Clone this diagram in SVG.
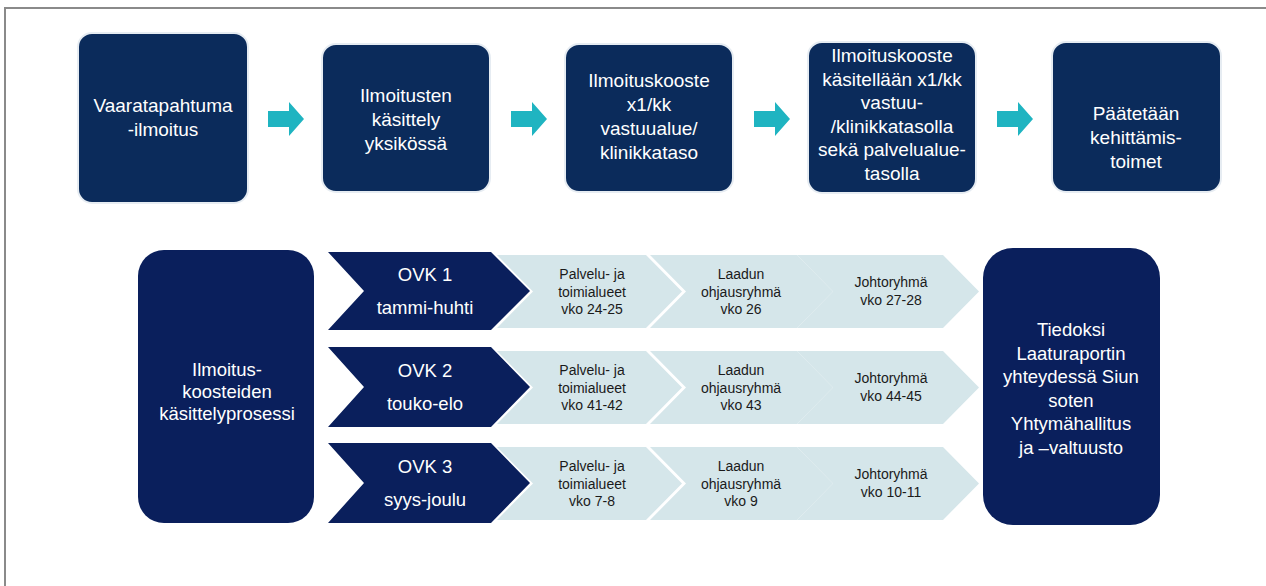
<svg xmlns="http://www.w3.org/2000/svg" width="1266" height="586" viewBox="0 0 1266 586">
<style>
.box{fill:#0b2b5b;stroke:#e6ecf2;stroke-width:2}
.dbox{fill:#0a1f5c}
.arr{fill:#1fb4c1}
.lc{fill:#d5e6ea}
.t{font-family:"Liberation Sans",Arial,sans-serif;font-size:19px;fill:#ffffff;text-anchor:middle}
.b{font-family:"Liberation Sans",Arial,sans-serif;font-size:18.5px;fill:#ffffff;text-anchor:middle}
.s{font-family:"Liberation Sans",Arial,sans-serif;font-size:14px;fill:#1a1a1a;text-anchor:middle}
</style>
<rect x="0" y="0" width="1266" height="586" fill="#ffffff"/>
<path d="M5,590 V8 H1270" fill="none" stroke="#8a8a8a" stroke-width="2"/>

<g id="n1"><rect class="box" x="78" y="33" width="170" height="170" rx="14"/>
<text class="t" x="163" y="112">Vaaratapahtuma</text><text class="t" x="163" y="136">-ilmoitus</text></g>
<g id="n2"><rect class="box" x="322" y="44" width="168" height="148" rx="14"/>
<text class="t" x="406" y="102">Ilmoitusten</text><text class="t" x="406" y="126">käsittely</text><text class="t" x="406" y="150">yksikössä</text></g>
<g id="n3"><rect class="box" x="565" y="44" width="168" height="148" rx="14"/>
<text class="t" x="649" y="87">Ilmoituskooste</text><text class="t" x="649" y="111">x1/kk</text><text class="t" x="649" y="135">vastuualue/</text><text class="t" x="649" y="159">klinikkataso</text></g>
<g id="n4"><rect class="box" x="808" y="42" width="168" height="151" rx="14"/>
<text class="t" x="892" y="62">Ilmoituskooste</text><text class="t" x="892" y="85.5">käsitellään x1/kk</text><text class="t" x="892" y="109">vastuu-</text><text class="t" x="892" y="132.5">/klinikkatasolla</text><text class="t" x="892" y="156">sekä palvelualue-</text><text class="t" x="892" y="179.5">tasolla</text></g>
<g id="n5"><rect class="box" x="1052" y="42" width="169" height="150" rx="14"/>
<text class="t" x="1136" y="120">Päätetään</text><text class="t" x="1136" y="144">kehittämis-</text><text class="t" x="1136" y="168">toimet</text></g>

<g id="connectors">
<polygon class="arr" points="268,111 289,111 289,102 304,119 289,136 289,127 268,127"/>
<polygon class="arr" points="511,111 532,111 532,102 547,119 532,136 532,127 511,127"/>
<polygon class="arr" points="754,111 775,111 775,102 790,119 775,136 775,127 754,127"/>
<polygon class="arr" points="997,111 1018,111 1018,102 1033,119 1018,136 1018,127 997,127"/>
</g>

<g id="left"><rect class="dbox" x="138" y="250" width="176" height="273" rx="26"/>
<text class="b" x="227" y="376">Ilmoitus-</text><text class="b" x="227" y="398">koosteiden</text><text class="b" x="227" y="420">käsittelyprosessi</text></g>

<g id="row1">
<polygon class="lc" points="797,255 943,255 979,291.5 943,328 797,328 833,291.5"/>
<polygon class="lc" points="650,255 797,255 833,291.5 797,328 650,328 686,291.5"/>
<polygon class="lc" points="497,255 646,255 682,291.5 646,328 497,328 533,291.5"/>
<polygon class="dbox" points="328,252 491,252 530,291 491,330 328,330 364,291"/>
<text class="b" x="425" y="281">OVK 1</text><text class="b" x="425" y="314">tammi-huhti</text>
<text class="s" x="592" y="279">Palvelu- ja</text><text class="s" x="592" y="296.5">toimialueet</text><text class="s" x="592" y="314">vko 24-25</text>
<text class="s" x="741" y="279">Laadun</text><text class="s" x="741" y="296.5">ohjausryhmä</text><text class="s" x="741" y="314">vko 26</text>
<text class="s" x="891" y="287">Johtoryhmä</text><text class="s" x="891" y="304.5">vko 27-28</text>
</g>
<g id="row2">
<polygon class="lc" points="797,351 943,351 979,387.5 943,424 797,424 833,387.5"/>
<polygon class="lc" points="650,351 797,351 833,387.5 797,424 650,424 686,387.5"/>
<polygon class="lc" points="497,351 646,351 682,387.5 646,424 497,424 533,387.5"/>
<polygon class="dbox" points="328,347 491,347 530,387 491,427 328,427 364,387"/>
<text class="b" x="425" y="377">OVK 2</text><text class="b" x="425" y="410">touko-elo</text>
<text class="s" x="592" y="375">Palvelu- ja</text><text class="s" x="592" y="392.5">toimialueet</text><text class="s" x="592" y="410">vko 41-42</text>
<text class="s" x="741" y="375">Laadun</text><text class="s" x="741" y="392.5">ohjausryhmä</text><text class="s" x="741" y="410">vko 43</text>
<text class="s" x="891" y="383">Johtoryhmä</text><text class="s" x="891" y="400.5">vko 44-45</text>
</g>
<g id="row3">
<polygon class="lc" points="797,447 943,447 979,483.5 943,520 797,520 833,483.5"/>
<polygon class="lc" points="650,447 797,447 833,483.5 797,520 650,520 686,483.5"/>
<polygon class="lc" points="497,447 646,447 682,483.5 646,520 497,520 533,483.5"/>
<polygon class="dbox" points="328,443 491,443 530,483 491,523 328,523 364,483"/>
<text class="b" x="425" y="473">OVK 3</text><text class="b" x="425" y="506">syys-joulu</text>
<text class="s" x="592" y="471">Palvelu- ja</text><text class="s" x="592" y="488.5">toimialueet</text><text class="s" x="592" y="506">vko 7-8</text>
<text class="s" x="741" y="471">Laadun</text><text class="s" x="741" y="488.5">ohjausryhmä</text><text class="s" x="741" y="506">vko 9</text>
<text class="s" x="891" y="479">Johtoryhmä</text><text class="s" x="891" y="496.5">vko 10-11</text>
</g>

<g id="right"><rect class="dbox" x="983" y="248" width="177" height="277" rx="30"/>
<text class="b" x="1071" y="336">Tiedoksi</text><text class="b" x="1071" y="359.5">Laaturaportin</text><text class="b" x="1071" y="383">yhteydessä Siun</text><text class="b" x="1071" y="406.5">soten</text><text class="b" x="1071" y="430">Yhtymähallitus</text><text class="b" x="1071" y="453.5">ja –valtuusto</text></g>
</svg>
